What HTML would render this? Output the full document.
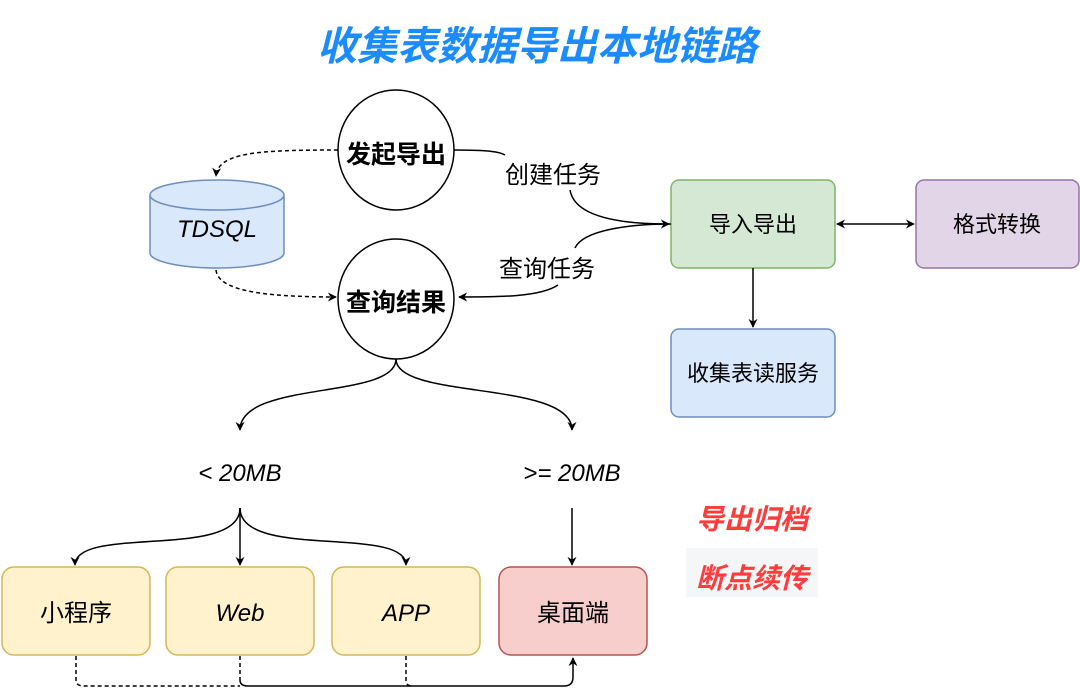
<!DOCTYPE html>
<html><head><meta charset="utf-8"><style>
body{margin:0;background:#fff;}
svg{display:block;font-family:"Liberation Sans","Noto Sans CJK SC",sans-serif;}
</style></head><body>
<svg width="1080" height="699" viewBox="0 0 1080 699" xmlns="http://www.w3.org/2000/svg">
<defs>
<marker id="a" viewBox="0 0 10 10" refX="9" refY="5" markerWidth="9" markerHeight="9" orient="auto-start-reverse" markerUnits="userSpaceOnUse"><path d="M0,0 L10,5 L0,10 L3,5 Z" fill="#000"/></marker>
</defs>
<text x="537" y="60" text-anchor="middle" font-size="40" font-weight="bold" font-style="italic" fill="#1a8cff">收集表数据导出本地链路</text>

<ellipse cx="396" cy="150" rx="58" ry="60" fill="#fff" stroke="#000" stroke-width="1.5"/>
<text x="396" y="163" text-anchor="middle" font-size="25" font-weight="bold">发起导出</text>
<ellipse cx="396" cy="299" rx="58" ry="60" fill="#fff" stroke="#000" stroke-width="1.5"/>
<text x="396" y="311" text-anchor="middle" font-size="25" font-weight="bold">查询结果</text>

<path d="M150,195 L150,253 A67,15 0 0 0 284,253 L284,195" fill="#dae8fc" stroke="#6c8ebf" stroke-width="1.5"/>
<ellipse cx="217" cy="195" rx="67" ry="15" fill="#dae8fc" stroke="#6c8ebf" stroke-width="1.5"/>
<text x="217" y="237" text-anchor="middle" font-size="24" font-style="italic">TDSQL</text>

<rect x="671" y="180" width="164" height="88" rx="8" fill="#d5e8d4" stroke="#82b366" stroke-width="1.5"/>
<text x="753" y="232" text-anchor="middle" font-size="22">导入导出</text>
<rect x="916" y="180" width="163" height="88" rx="8" fill="#e1d5e7" stroke="#9673a6" stroke-width="1.5"/>
<text x="997" y="232" text-anchor="middle" font-size="22">格式转换</text>
<rect x="671" y="329" width="164" height="88" rx="8" fill="#dae8fc" stroke="#6c8ebf" stroke-width="1.5"/>
<text x="753" y="381" text-anchor="middle" font-size="22">收集表读服务</text>

<rect x="2" y="567" width="148" height="88" rx="12" fill="#fff2cc" stroke="#d6b656" stroke-width="1.5"/>
<text x="76" y="621" text-anchor="middle" font-size="24">小程序</text>
<rect x="166" y="567" width="148" height="88" rx="12" fill="#fff2cc" stroke="#d6b656" stroke-width="1.5"/>
<text x="240" y="621" text-anchor="middle" font-size="24" font-style="italic">Web</text>
<rect x="332" y="567" width="148" height="88" rx="12" fill="#fff2cc" stroke="#d6b656" stroke-width="1.5"/>
<text x="406" y="621" text-anchor="middle" font-size="24" font-style="italic">APP</text>
<rect x="499" y="567" width="148" height="88" rx="12" fill="#f8cecc" stroke="#b85450" stroke-width="1.5"/>
<text x="573" y="621" text-anchor="middle" font-size="24">桌面端</text>

<text x="240" y="481" text-anchor="middle" font-size="24" font-style="italic">&lt; 20MB</text>
<text x="572" y="481" text-anchor="middle" font-size="24" font-style="italic">&gt;= 20MB</text>

<rect x="686" y="548" width="132" height="49" fill="#f5f6f7"/>
<text x="752" y="529" text-anchor="middle" font-size="28" font-weight="bold" font-style="italic" fill="#ff3b3b">导出归档</text>
<text x="752" y="588" text-anchor="middle" font-size="28" font-weight="bold" font-style="italic" fill="#ff3b3b">断点续传</text>

<g fill="none" stroke="#000" stroke-width="1.5">
<path d="M454,150 C490,150 500,152 505,155"/>
<text x="553" y="183" text-anchor="middle" font-size="24" stroke="none" fill="#000">创建任务</text>
<path d="M570,190 C575,220 630,224 669,224" marker-end="url(#a)"/>
<path d="M671,224 C630,224 583,230 575,248"/>
<text x="547" y="277" text-anchor="middle" font-size="24" stroke="none" fill="#000">查询任务</text>
<path d="M558,285 C540,297 500,297 459,297" marker-end="url(#a)"/>
<path d="M338,150 C260,150 218,152 216,176" stroke-dasharray="4,3" marker-end="url(#a)"/>
<path d="M216,270 C218,290 260,297 336,297" stroke-dasharray="4,3" marker-end="url(#a)"/>
<path d="M396,359 C396,400 240,380 240,430" marker-end="url(#a)"/>
<path d="M396,359 C396,400 572,380 572,430" marker-end="url(#a)"/>
<path d="M240,508 C240,560 75,525 75,565" marker-end="url(#a)"/>
<path d="M240,508 L240,565" marker-end="url(#a)"/>
<path d="M240,508 C240,560 406,525 406,565" marker-end="url(#a)"/>
<path d="M572,508 L572,565" marker-end="url(#a)"/>
<path d="M837,224 L914,224" marker-start="url(#a)" marker-end="url(#a)"/>
<path d="M753,268 L753,327" marker-end="url(#a)"/>
<path d="M76,656 L76,680 Q76,686 84,686 L240,686" stroke-dasharray="4,3"/>
<path d="M240,656 L240,680" stroke-dasharray="4,3"/>
<path d="M406,656 L406,680 Q406,686 412,686" stroke-dasharray="4,3"/>
<path d="M240,680 Q240,686 248,686 L564,686 Q573,686 573,677 L573,658" marker-end="url(#a)"/>
</g>
</svg>
</body></html>
